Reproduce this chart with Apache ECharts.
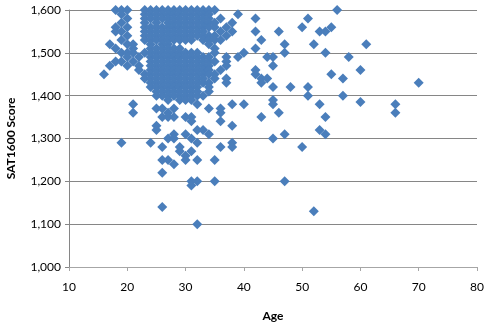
<!DOCTYPE html>
<html>
<head>
<meta charset="utf-8">
<script src="https://cdn.jsdelivr.net/npm/echarts@6/dist/echarts.min.js"></script>
<style>
html,body{margin:0;padding:0;background:#fff;}
#c{width:486px;height:323px;}
</style>
</head>
<body>
<div id="c"></div>
<script>
// Age of each respondent and their SAT (1600 scale) score
var ages = [
16,
17,17,
18,18,18,18,18,
19,19,19,19,19,19,19,19,
20,20,20,20,20,20,20,20,
21,21,21,21,21,21,
22,22,22,
23,23,23,23,23,23,23,23,23,23,23,
24,24,24,24,24,24,24,24,24,24,24,24,24,24,24,24,24,24,24,
25,25,25,25,25,25,25,25,25,25,25,25,25,25,25,25,25,25,25,25,25,25,25,
26,26,26,26,26,26,26,26,26,26,26,26,26,26,26,26,26,26,26,26,26,26,26,26,26,26,
27,27,27,27,27,27,27,27,27,27,27,27,27,27,27,27,27,27,27,27,27,27,27,27,27,27,
28,28,28,28,28,28,28,28,28,28,28,28,28,28,28,28,28,28,28,28,28,28,28,28,28,
29,29,29,29,29,29,29,29,29,29,29,29,29,29,29,29,29,29,29,29,29,29,29,
30,30,30,30,30,30,30,30,30,30,30,30,30,30,30,30,30,30,30,30,30,30,30,30,
31,31,31,31,31,31,31,31,31,31,31,31,31,31,31,31,31,31,31,31,31,31,31,31,31,31,
32,32,32,32,32,32,32,32,32,32,32,32,32,32,32,32,32,32,32,32,32,32,32,32,
33,33,33,33,33,33,33,33,33,33,33,33,33,33,33,33,33,
34,34,34,34,34,34,34,34,34,34,34,34,34,34,34,34,34,34,
35,35,35,35,35,35,35,35,35,35,35,35,
36,36,36,36,36,36,36,36,
37,37,37,37,37,37,37,
38,38,38,38,38,38,
39,39,
40,40,
42,42,42,42,42,
43,43,43,43,
44,44,
45,45,45,45,45,45,
46,46,
47,47,47,47,
48,
50,50,
51,51,51,
52,52,
53,53,53,
54,54,54,54,
55,55,
56,
57,57,
58,
60,60,
61,
66,66,
70
];
var scores = [
1450,
1470,1520,
1600,1550,1560,1510,1480,
1600,1590,1570,1550,1530,1500,1480,1290,
1600,1580,1560,1540,1520,1500,1490,1470,
1520,1510,1500,1480,1380,1360,
1490,1470,1460,
1600,1590,1580,1570,1560,1550,1540,1530,1500,1450,1440,
1600,1590,1580,1560,1550,1540,1530,1520,1510,1500,1490,1480,1470,1460,1450,1440,1430,1420,1290,
1600,1590,1580,1570,1560,1550,1540,1530,1510,1500,1490,1480,1470,1460,1450,1440,1430,1420,1410,1400,1370,1330,1320,
1600,1590,1580,1560,1550,1540,1530,1520,1510,1500,1490,1480,1470,1460,1450,1440,1430,1420,1410,1400,1370,1350,1280,1250,1220,1140,
1600,1590,1580,1570,1560,1550,1540,1530,1520,1510,1500,1490,1480,1470,1460,1450,1440,1430,1420,1410,1400,1390,1360,1350,1300,1250,
1600,1590,1580,1570,1560,1550,1540,1530,1510,1500,1490,1480,1470,1460,1450,1440,1430,1420,1410,1400,1370,1350,1310,1300,1240,
1600,1590,1580,1570,1560,1550,1540,1530,1510,1500,1490,1480,1470,1460,1450,1440,1430,1420,1410,1400,1390,1280,1270,
1600,1590,1580,1570,1560,1550,1540,1530,1500,1490,1480,1470,1460,1450,1440,1430,1420,1410,1400,1390,1350,1310,1260,1250,
1600,1590,1580,1570,1560,1550,1540,1530,1500,1490,1480,1470,1460,1450,1440,1430,1420,1410,1400,1390,1350,1340,1300,1270,1200,1190,
1600,1590,1580,1570,1560,1550,1540,1500,1490,1480,1470,1460,1450,1440,1430,1420,1410,1400,1380,1320,1290,1250,1200,1100,
1600,1590,1580,1570,1560,1550,1540,1530,1490,1480,1470,1460,1450,1440,1430,1400,1320,
1600,1590,1580,1570,1560,1540,1530,1520,1490,1480,1470,1460,1450,1430,1420,1410,1370,1310,
1600,1570,1560,1540,1530,1510,1500,1480,1450,1440,1250,1200,
1580,1550,1530,1460,1370,1360,1340,1280,
1560,1540,1490,1480,1470,1440,1430,
1570,1550,1380,1330,1290,1280,
1590,1490,
1500,1380,
1580,1550,1510,1460,1450,
1530,1440,1430,1350,
1490,1440,
1490,1470,1420,1390,1380,1300,
1550,1360,
1520,1500,1310,1200,
1420,
1560,1280,
1580,1420,1400,
1520,1130,
1550,1380,1320,
1550,1500,1350,1310,
1560,1450,
1600,
1440,1400,
1490,
1460,1385,
1520,
1380,1360,
1430
];
var xTicks = [10, 20, 30, 40, 50, 60, 70, 80];
var yTicks = [1000, 1100, 1200, 1300, 1400, 1500, 1600];

var points = ages.map(function (a, i) { return [a, scores[i]]; });

var chart = echarts.init(document.getElementById('c'), null, { renderer: 'canvas' });
var font = 'Lato, "Open Sans", sans-serif';
chart.setOption({
  animation: false,
  backgroundColor: '#ffffff',
  grid: { left: 69, right: 9, top: 10, bottom: 56, containLabel: false, outerBoundsMode: 'none' },
  xAxis: {
    type: 'value',
    min: xTicks[0], max: xTicks[xTicks.length - 1], interval: 10,
    name: 'Age', nameLocation: 'middle', nameGap: 43, nameMoveOverlap: false,
    nameTextStyle: { fontFamily: font, fontSize: 12, fontWeight: 'bold', color: '#000' },
    axisLine: { show: true, onZero: false, lineStyle: { color: '#a6a6a6', width: 1 } },
    axisTick: { show: true, length: 4, inside: false, lineStyle: { color: '#a6a6a6' } },
    axisLabel: { fontFamily: font, fontSize: 12, color: '#000', margin: 14 },
    splitLine: { show: false }
  },
  yAxis: {
    type: 'value',
    min: yTicks[0], max: yTicks[yTicks.length - 1], interval: 100,
    name: 'SAT1600 Score', nameLocation: 'middle', nameGap: 52, nameRotate: 90, nameMoveOverlap: false,
    nameTextStyle: { fontFamily: font, fontSize: 12, fontWeight: 'bold', color: '#000' },
    axisLine: { show: true, lineStyle: { color: '#868686', width: 1 } },
    axisTick: { show: true, length: 4, inside: false, lineStyle: { color: '#868686' } },
    axisLabel: {
      fontFamily: font, fontSize: 12, color: '#000', margin: 8,
      formatter: function (v) { return echarts.format.addCommas(v); }
    },
    splitLine: { show: true, lineStyle: { color: '#868686', width: 1 } }
  },
  series: [{
    type: 'scatter',
    symbol: 'diamond',
    symbolSize: 10,
    data: points,
    itemStyle: { color: '#4a7ebb', opacity: 1 }
  }]
});
</script>
</body>
</html>
